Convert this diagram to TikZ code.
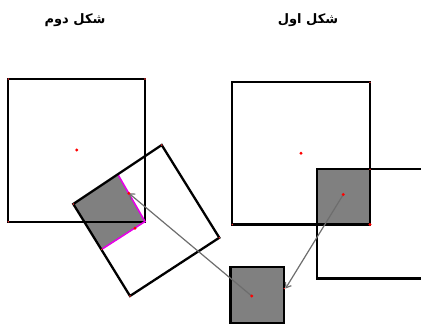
\documentclass[tikz,border=0pt]{standalone}
\usepackage{fontspec}
\newfontfamily\arabicfont[Script=Arabic]{DejaVu Sans Bold}
\TeXXeTstate=1
\usetikzlibrary{arrows.meta}
\definecolor{shade}{RGB}{128,128,128}
\definecolor{mag}{RGB}{230,0,230}
\tikzset{
  sq/.style={draw=black, line width=2.3pt, line join=miter},
  shaded/.style={fill=shade},
  conn/.style={draw=shade!85!black, line width=1.2pt, -{Straight Barb[length=4.5pt,width=7pt]}},
  bigdot/.style={fill=red},
  tinydot/.style={fill=red!80},
  title/.style={font=\arabicfont\fontsize{13}{15}\selectfont, inner sep=0pt}
}
\begin{document}
\begin{tikzpicture}[x=1pt,y=-1pt]
\useasboundingbox (0,0) rectangle (421,327);
\clip (0,0) rectangle (421,327);
% titles
\node[title] (t1) at (75,20) {\beginR شکل دوم\endR};
\node[title] (t2) at (308,20) {\beginR شکل اول\endR};

% ---- right figure (figure 1)
\fill[shaded] (316.7,169.3) rectangle (370,224.5);
\draw[sq] (232.3,82.3) rectangle (370,224.5);
\draw[sq] (316.7,169.3) rectangle (440,278.5);

% small grey square
\draw[sq, shaded] (230.5,266.7) rectangle (284.3,323);

% ---- left figure (figure 2)
\fill[shaded] (72.8,203.6) -- (118.3,175.2) -- (145,221.5) -- (101.7,249.3) -- cycle;
\draw[sq] (8.3,79) rectangle (145,221.7);
\draw[mag, line width=1.6pt] (118.3,175.2) -- (145,221.5) -- (101.7,249.3);
\draw[sq] (73.3,204) -- (161.7,145) -- (219.3,237.7) -- (130,296) -- cycle;

% centre points
\coordinate (c1) at (343.3,194.5);
\coordinate (c2) at (251.7,296);
\coordinate (e1) at (285.5,288.5);
\coordinate (e2) at (128.9,193.3);

% connectors
\draw[conn] (c1) -- (e1);
\draw[conn] (c2) -- (e2);

% dots
\foreach \p in {(76.7,150),(301,153.3),(343.3,194.5),(370,224.5),(251.7,296),(128.9,193.3),(135,228.3)}
  \fill[bigdot] \p circle (1.6);
\foreach \p in {(8.3,79),(145,79),(8.3,221.7),(161.7,145),(219.3,237.7),(130,296),(73.3,204),(101.7,249.3),(370,82.3),(370,169.3),(232.3,224.5),(284.3,288.5)}
  \fill[tinydot] \p circle (0.8);
\end{tikzpicture}
\end{document}
